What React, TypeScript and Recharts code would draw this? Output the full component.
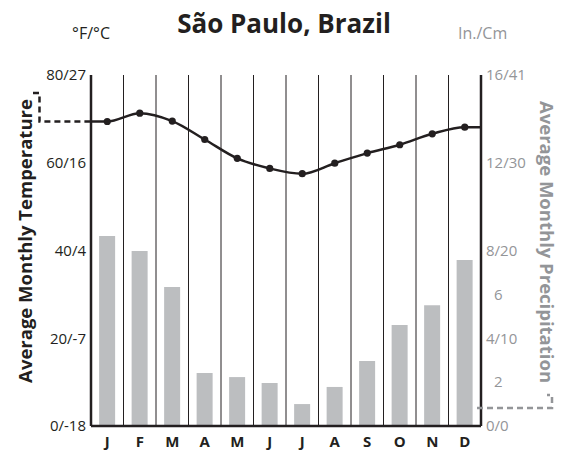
import { ComposedChart, Bar, Line, XAxis, YAxis, ReferenceLine } from 'recharts';

const months = ['J', 'F', 'M', 'A', 'M', 'J', 'J', 'A', 'S', 'O', 'N', 'D'];
// °F
const tempF = [69.4, 71.3, 69.5, 65.3, 61.0, 58.7, 57.5, 59.9, 62.2, 64.1, 66.6, 68.1];
// inches
const precipIn = [8.66, 7.98, 6.34, 2.42, 2.23, 1.96, 1.0, 1.78, 2.96, 4.6, 5.5, 7.57];
// the line runs on flat out to both side axes
const tempAtEdges = [69.4, 68.1];

const tempTicks = [0, 20, 40, 60, 80];
const tempTickLabels = ['0/-18', '20/-7', '40/4', '60/16', '80/27'];
const precipTicks = [0, 2, 4, 6, 8, 12, 16];
const precipTickLabels = ['0/0', '2', '4/10', '6', '8/20', '12/30', '16/41'];

const data = [
  { x: 0, temp: tempAtEdges[0] },
  ...months.map((m, i) => ({ x: i + 0.5, month: m, temp: tempF[i], precip: precipIn[i] })),
  { x: 12, temp: tempAtEdges[1] },
];
const monthCenters = months.map((_, i) => i + 0.5);
const monthBounds = months.slice(1).map((_, i) => i + 1);

const FONT = '"Open Sans", sans-serif';
const DARK = '#231f20';
const GREY = '#939598';

const PrecipTick = (props: any) => {
  const { x, y, payload } = props;
  const label = precipTickLabels[precipTicks.indexOf(payload.value)];
  const indent = label.includes('/') ? 0 : 8;
  return (
    <text x={x + indent} y={y} dy="0.355em" textAnchor="start" fontSize={15} fill={GREY} fontFamily={FONT}>
      {label}
    </text>
  );
};

const TempDot = (props: any) => {
  const { cx, cy, payload, index } = props;
  if (!payload.month) return <g key={`d${index}`} />;
  return <circle key={`d${index}`} cx={cx} cy={cy} r={3.6} fill={DARK} />;
};

export default function App() {
  return (
    <div style={{ position: 'absolute', left: 0, top: 0, width: 565, height: 452, background: '#fff' }}>
      <ComposedChart width={565} height={452} data={data} margin={{ top: 75, right: 0, bottom: 0, left: 0 }}>
        {monthBounds.map((b) => (
          <ReferenceLine key={b} x={b} yAxisId="left" stroke={DARK} strokeWidth={1} />
        ))}
        <XAxis
          dataKey="x"
          type="number"
          domain={[0, 12]}
          ticks={monthCenters}
          interval={0}
          tickFormatter={(v: number) => months[Math.floor(v)]}
          height={26}
          tickLine={false}
          tickSize={8}
          tickMargin={2}
          axisLine={{ stroke: DARK, strokeWidth: 2.5 }}
          tick={{ fontSize: 15, fontWeight: 700, fill: DARK, fontFamily: FONT }}
        />
        <YAxis
          yAxisId="left"
          domain={[0, 80]}
          ticks={tempTicks}
          interval={0}
          tickFormatter={(v: number) => tempTickLabels[tempTicks.indexOf(v)]}
          width={91}
          tickLine={false}
          tickSize={3}
          tickMargin={2}
          axisLine={{ stroke: DARK, strokeWidth: 2.5 }}
          tick={{ fontSize: 15, fill: DARK, fontFamily: FONT }}
        />
        <YAxis
          yAxisId="right"
          orientation="right"
          domain={[0, 16]}
          ticks={precipTicks}
          interval={0}
          width={84}
          tickLine={false}
          tickSize={3}
          tickMargin={2}
          axisLine={{ stroke: DARK, strokeWidth: 2.5 }}
          tick={<PrecipTick />}
        />
        <Bar dataKey="precip" yAxisId="right" barSize={16} fill="#bcbec0" isAnimationActive={false} />
        <Line
          dataKey="temp"
          yAxisId="left"
          type="monotone"
          stroke={DARK}
          strokeWidth={2.5}
          dot={TempDot}
          activeDot={false}
          isAnimationActive={false}
        />
      </ComposedChart>
      <svg width={565} height={452} style={{ position: 'absolute', left: 0, top: 0, pointerEvents: 'none' }}>
        <text x={284} y={33} textAnchor="middle" fontSize={26} fontWeight={700} fill={DARK} fontFamily={FONT}>
          São Paulo, Brazil
        </text>
        <text x={91} y={39} textAnchor="middle" fontSize={16} fill={DARK} fontFamily={FONT}>
          °F/°C
        </text>
        <text x={458} y={39} textAnchor="start" fontSize={16} fill={GREY} fontFamily={FONT}>
          In./Cm
        </text>
        <text transform="translate(24,241) rotate(-90)" textAnchor="middle" dominantBaseline="central" fontSize={18.5} fontWeight={700} fill={DARK} fontFamily={FONT}>
          Average Monthly Temperature
        </text>
        <text transform="translate(547,242) rotate(90)" textAnchor="middle" dominantBaseline="central" fontSize={18.5} fontWeight={700} fill={GREY} fontFamily={FONT}>
          Average Monthly Precipitation
        </text>
        <path d="M33 93 H39.5 V121.6 H90" fill="none" stroke={DARK} strokeWidth={2.5} strokeDasharray="6 4" />
        <path d="M477 408 H552 V395 H547" fill="none" stroke={GREY} strokeWidth={2.5} strokeDasharray="6 4" />
      </svg>
    </div>
  );
}
